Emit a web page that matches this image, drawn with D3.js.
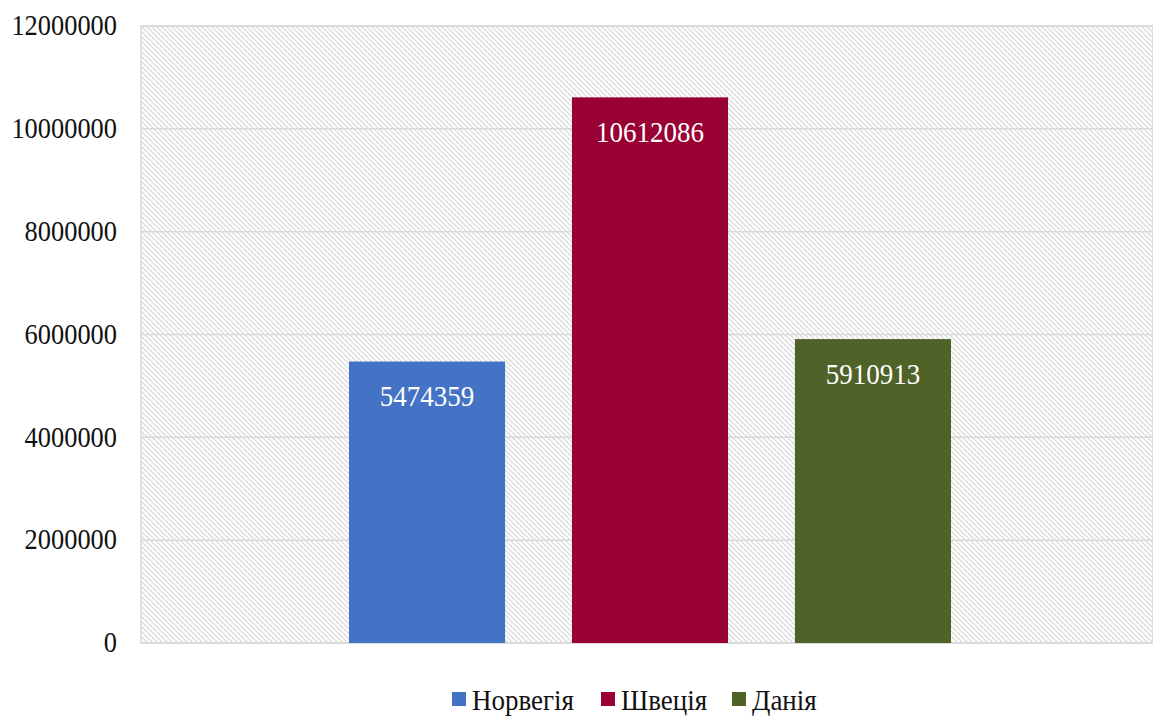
<!DOCTYPE html>
<html><head><meta charset="utf-8">
<script src="https://cdn.jsdelivr.net/npm/d3@7/dist/d3.min.js"></script>
<style>body{margin:0;background:#fff}svg{display:block}
text{font-family:"Liberation Serif","Times New Roman",serif}</style>
</head><body>
<svg id="c" width="1153" height="717"></svg>
<script>
const series = ["Норвегія", "Швеція", "Данія"];
const values = [5474359, 10612086, 5910913];
const colors = ["#4472C4", "#990033", "#4F6228"];
const yTicks = [0, 2000000, 4000000, 6000000, 8000000, 10000000, 12000000];

const svg = d3.select("#c");
const L = 141, R = 1153, T = 26, B = 643;

function squeeze(sel, k){
  sel.each(function(){
    const w = this.getComputedTextLength();
    d3.select(this).attr("textLength", w*k).attr("lengthAdjust","spacingAndGlyphs");
  });
}

const defs = svg.append("defs");
const pat = defs.append("pattern").attr("id","hatch").attr("patternUnits","userSpaceOnUse")
  .attr("width",5).attr("height",5);
pat.append("rect").attr("width",5).attr("height",5).attr("fill","#fff");
pat.append("path").attr("d","M-1,-1 L6,6 M-1,4 L1,6 M4,-1 L6,1")
  .attr("stroke","#dedede").attr("stroke-width",1.5);

const y = d3.scaleLinear().domain([0,12000000]).range([B,T]);
const x = d3.scaleBand().domain(series).range([349,951]).paddingInner(0.3).paddingOuter(0);

svg.append("rect").attr("x",L).attr("y",T).attr("width",R-L).attr("height",B-T)
  .attr("fill","url(#hatch)").attr("stroke","#d9d9d9").attr("stroke-width",1.5);

svg.append("g").selectAll("line").data(yTicks).join("line")
  .attr("x1",L).attr("x2",R).attr("y1",d=>y(d)).attr("y2",d=>y(d))
  .attr("stroke","#d9d9d9").attr("stroke-width",1.5);

const yAxis = svg.append("g").attr("transform",`translate(${L},0)`)
  .call(d3.axisLeft(y).tickValues(yTicks).tickFormat(d=>String(d)).tickSize(0).tickPadding(24));
yAxis.select(".domain").remove();
yAxis.attr("font-family",null);
yAxis.selectAll("text").attr("font-size",30).attr("fill","#111").attr("dy","0.29em").call(squeeze, 0.88);

svg.append("g").selectAll("rect").data(values).join("rect")
  .attr("x",(d,i)=>x(series[i])).attr("width",x.bandwidth())
  .attr("y",d=>y(d)).attr("height",d=>B-y(d)).attr("fill",(d,i)=>colors[i]);

svg.append("g").selectAll("text").data(values).join("text")
  .attr("x",(d,i)=>x(series[i])+x.bandwidth()/2).attr("y",d=>y(d)+44.5)
  .attr("text-anchor","middle").attr("font-size",30)
  .attr("fill","#fff").text(d=>String(d)).call(squeeze, 0.9);

const legX = [452, 601, 732];
const lg = svg.append("g");
series.forEach((s,i)=>{
  lg.append("rect").attr("x",legX[i]).attr("y",692).attr("width",14).attr("height",14).attr("fill",colors[i]);
  lg.append("text").attr("x",legX[i]+20).attr("y",710).attr("font-size",29)
    .attr("fill","#111").text(s).call(squeeze, 0.93);
});
</script>
</body></html>
